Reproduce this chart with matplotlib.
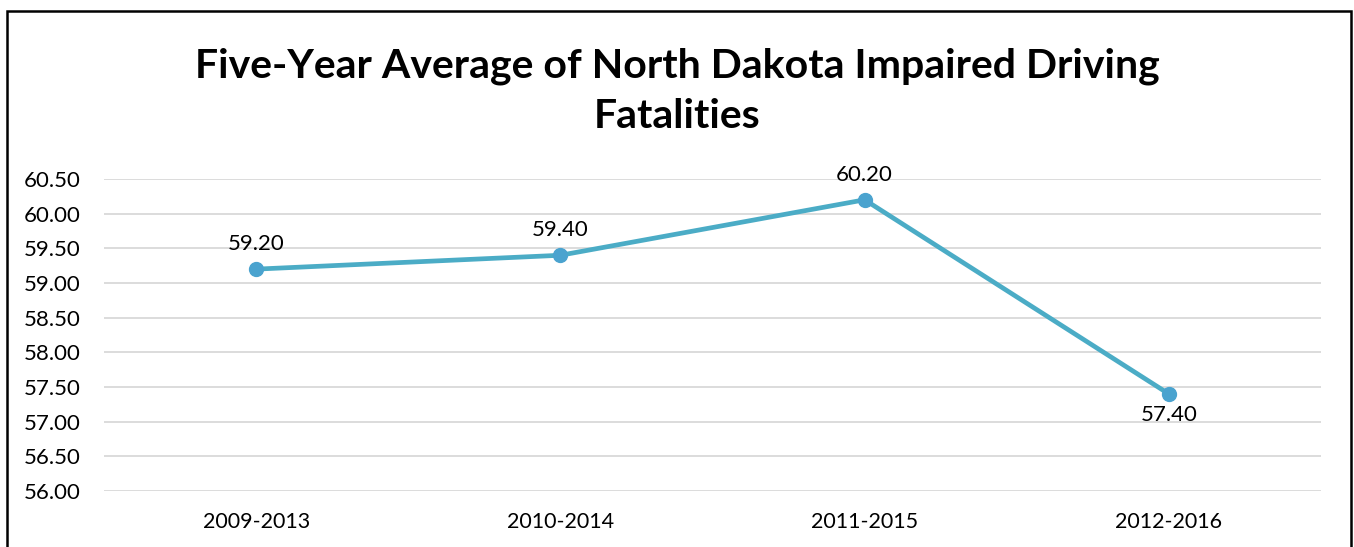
import matplotlib.pyplot as plt
from matplotlib.patches import Rectangle

# chart data
periods = ["2009-2013", "2010-2014", "2011-2015", "2012-2016"]
averages = [59.20, 59.40, 60.20, 57.40]
# label placement: above the point except the last one
label_below = [False, False, False, True]

line_color = "#4BACC6"
marker_color = "#4AA3CF"

plt.rcParams['font.family'] = ['Lato', 'DejaVu Sans']

fig = plt.figure(figsize=(13.54, 5.47), dpi=100)
ax = fig.add_axes([104 / 1354, 1 - 491 / 547, 1217 / 1354, 312 / 547])

x = list(range(len(periods)))
ax.plot(x, averages, color=line_color, linewidth=3.4, marker="o",
        markersize=10, markerfacecolor=marker_color, markeredgecolor=marker_color,
        zorder=3)

for i, val in enumerate(averages):
    if label_below[i]:
        ax.annotate(f"{val:.2f}", (i, val), xytext=(0, -8), textcoords="offset points",
                    ha="center", va="top", fontsize=16)
    else:
        ax.annotate(f"{val:.2f}", (i, val), xytext=(0, 11), textcoords="offset points",
                    ha="center", va="bottom", fontsize=16)

ax.set_xlim(-0.5, len(periods) - 0.5)
ax.set_ylim(56.0, 60.5)
ax.set_yticks([56.0 + 0.5 * k for k in range(10)])
ax.set_yticklabels([f"{56.0 + 0.5 * k:.2f}" for k in range(10)])
ax.set_xticks(x)
ax.set_xticklabels(periods)
ax.tick_params(axis="both", length=0)
ax.tick_params(axis="y", pad=17, labelsize=16)
ax.tick_params(axis="x", pad=15, labelsize=15.5)
ax.grid(axis="y", color="#D9D9D9", linewidth=1.3)
ax.set_axisbelow(True)
for s in ax.spines.values():
    s.set_visible(False)

fig.text(0.5, 1 - 66 / 547, "Five-Year Average of North Dakota Impaired Driving",
         ha="center", va="center", fontsize=29.5, fontweight="bold")
fig.text(0.5, 1 - 117 / 547, "Fatalities",
         ha="center", va="center", fontsize=29.5, fontweight="bold")

# outer chart border
fig.patches.append(Rectangle((6.5 / 1354, -0.05), 1344 / 1354, 1.05 - 10.5 / 547,
                             transform=fig.transFigure, fill=False,
                             edgecolor="black", linewidth=1.8))

fig.savefig("out.png", dpi=100)
